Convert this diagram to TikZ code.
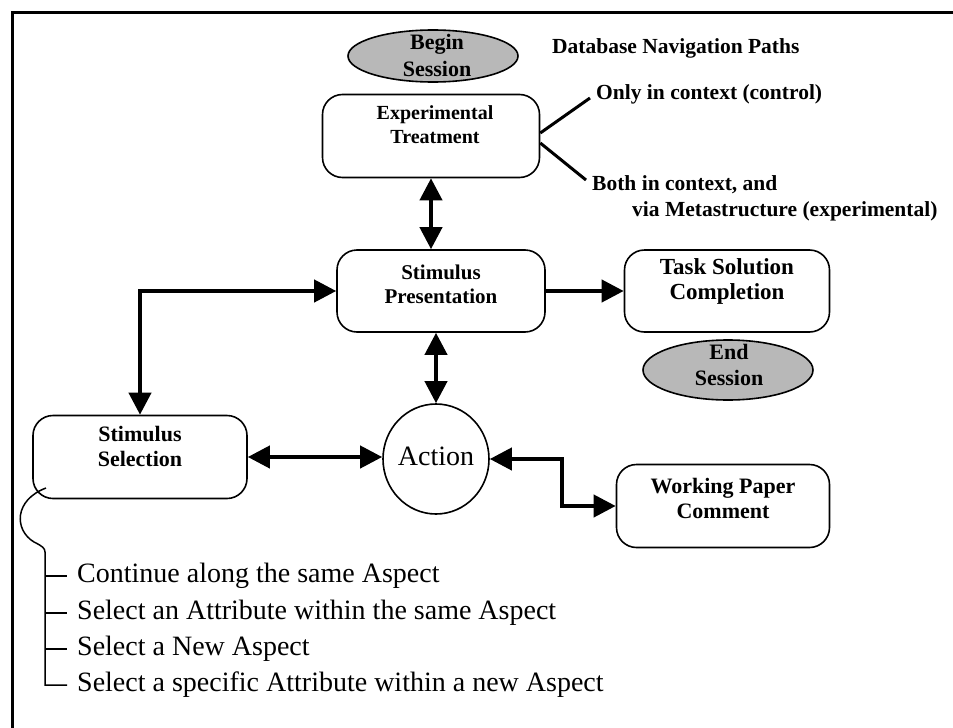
\documentclass[tikz,border=0pt]{standalone}
\usepackage{fontspec}
\setmainfont{Liberation Serif}
\usetikzlibrary{arrows.meta,shapes.geometric,calc}
\begin{document}
\begin{tikzpicture}[x=1pt,y=-1pt,
  box/.style={draw, line width=1.6pt, rounded corners=20pt, inner sep=0pt},
  sess/.style={draw, ellipse, line width=1.6pt, fill=black!28, inner sep=0pt},
  act/.style={draw, ellipse, line width=1.6pt, inner sep=0pt},
  lbl/.style={font=\bfseries\fontsize{22}{25}\selectfont, align=center, inner sep=0pt},
  note/.style={font=\bfseries\fontsize{21.5}{24}\selectfont, align=left, inner sep=0pt, anchor=west},
  big/.style={font=\fontsize{28}{30}\selectfont, inner sep=0pt, anchor=west},
  arr/.style={line width=4pt, arrows={-Triangle[length=22pt,width=22pt]}},
  darr/.style={line width=4pt, arrows={Triangle[length=22pt,width=22pt]-Triangle[length=22pt,width=22pt]}},
  thin/.style={line width=1.5pt},
  bar/.style={line width=3pt}
]
\useasboundingbox (0,0) rectangle (953,728);
% frame
\draw[line width=3pt] (953,12) -- (12,12) -- (12,728);

% session ellipses
\node[sess, minimum width=170, minimum height=52] (bs) at (433,56) {};
\node[lbl, font=\bfseries\fontsize{22}{27}\selectfont] (bst) at (437,55) {Begin\\Session};
\node[sess, minimum width=170, minimum height=60] (es) at (728,370) {};
\node[lbl, font=\bfseries\fontsize{22}{26}\selectfont] (est) at (729,365) {End\\Session};

% boxes
\node[box, minimum width=217, minimum height=83] (et) at (431,136) {};
\node[lbl, font=\bfseries\fontsize{20}{24}\selectfont] (ett) at (435,125) {Experimental\\Treatment};
\node[box, minimum width=208, minimum height=82] (sp) at (441,291) {};
\node[lbl, font=\bfseries\fontsize{21}{24}\selectfont] (spt) at (441,284) {Stimulus\\Presentation};
\node[box, minimum width=205, minimum height=82] (ts) at (727,291) {};
\node[lbl, font=\bfseries\fontsize{23}{25}\selectfont] (tst) at (727,281) {Task Solution\\Completion};
\node[box, minimum width=214, minimum height=83] (ss) at (140,457) {};
\node[lbl] (sst) at (140,446) {Stimulus\\Selection};
\node[box, minimum width=213, minimum height=83] (wp) at (723,506) {};
\node[lbl] (wpt) at (723,498) {Working Paper\\Comment};
\node[act, minimum width=106, minimum height=110] (ac) at (436,459) {};
\node[font=\fontsize{28}{30}\selectfont, inner sep=0pt] (act) at (436,456) {Action};

% top-right notes
\node[note] (db) at (552,48) {Database Navigation Paths};
\node[note] (only) at (596,94) {Only in context (control)};
\node[note] (both) at (592,185) {Both in context, and};
\node[note] (via) at (632,211) {via Metastructure (experimental)};
\draw[bar] ($(et.east)+(0,-3)$) -- ($(only.west)+(-6,4)$);
\draw[bar] ($(et.east)+(0,7)$) -- ($(both.west)+(-6,-5)$);

% connectors
\draw[darr] (et.south) -- (et.south |- sp.north);
\draw[darr] (sp.south -| ac.north) -- (ac.north);
\draw[arr] (sp.east) -- (ts.west);
\draw[darr] (ss.north) |- (sp.west);
\draw[darr] (ss.east) -- (ss.east -| ac.west);
\draw[darr] (ac.east) -- ++(72,0) |- (wp.west);

% brace and list
\coordinate (b0) at (46,488);
\coordinate (b1) at (45,552);
\draw[thin] (b0) .. controls (14,500) and (14,530) .. (34,542)
  .. controls (42,546) and (45,548) .. (b1) -- (45,685) -- (67,685);
\node[big] (l1) at (77,576) {Continue along the same Aspect};
\node[big] (l2) at (77,613) {Select an Attribute within the same Aspect};
\node[big] (l3) at (77,649) {Select a New Aspect};
\node[big] (l4) at (77,685) {Select a specific Attribute within a new Aspect};
\draw[thin] (45,576) -- (l1.west -| 67,0);
\draw[thin] (45,613) -- (l2.west -| 67,0);
\draw[thin] (45,649) -- (l3.west -| 67,0);
\end{tikzpicture}
\end{document}
